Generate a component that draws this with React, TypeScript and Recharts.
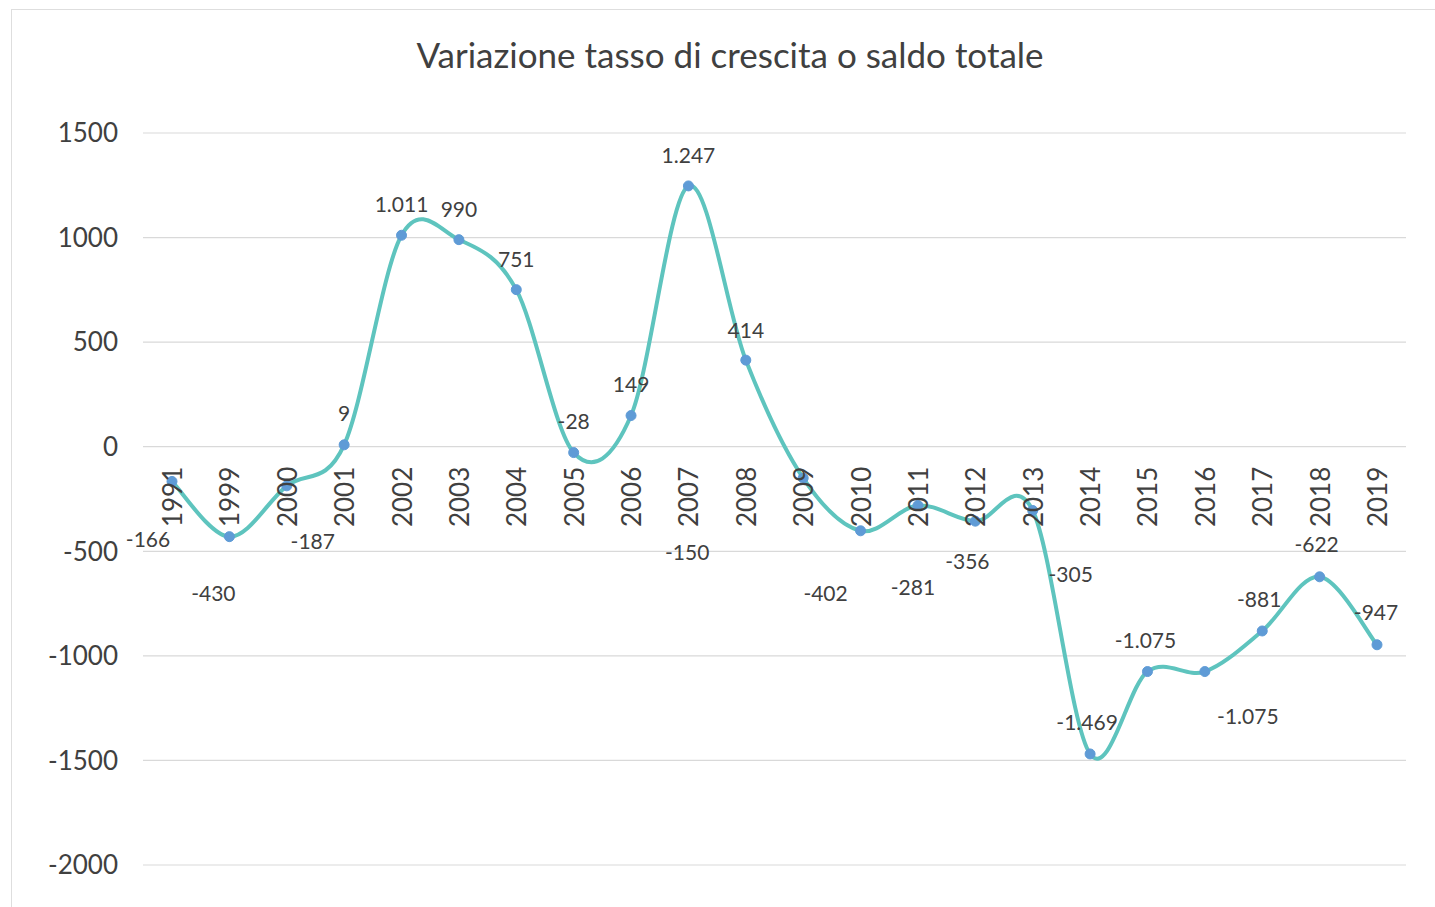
import React from "react";
import {
  LineChart,
  Line,
  XAxis,
  YAxis,
  CartesianGrid,
  LabelList,
} from "recharts";

const YEARS = [
  "1991", "1999", "2000", "2001", "2002", "2003", "2004", "2005", "2006", "2007", "2008",
  "2009", "2010", "2011", "2012", "2013", "2014", "2015", "2016", "2017", "2018", "2019",
];
const SALDO = [
  -166, -430, -187, 9, 1011, 990, 751, -28, 149, 1247, 414,
  -150, -402, -281, -356, -305, -1469, -1075, -1075, -881, -622, -947,
];
const Y_TICKS = [-2000, -1500, -1000, -500, 0, 500, 1000, 1500];

// where Excel dropped each data label, relative to its point
const LABEL_OFFSETS: [number, number][] = [
  [-24, 57], [-16, 56], [26, 55], [0, -32], [0, -32], [0, -31], [0, -31], [0, -32],
  [0, -32], [0, -31], [0, -31], [-116, 73], [-35, 62], [-5, 81], [-8, 39], [38, 63],
  [-3, -32], [-2, -32], [43, 44], [-3, -32], [-3, -33], [-1, -33],
];

const data = YEARS.map((year, i) => ({ year, saldo: SALDO[i], zero: 0 }));

const FONT = "Lato, 'Open Sans', sans-serif";
const TEXT = "#404040";

// Italian style: 1.011, -1.469
const fmt = (v: number) => {
  const s = Math.abs(v).toString().replace(/\B(?=(\d{3})+(?!\d))/g, ".");
  return v < 0 ? "-" + s : s;
};

// Excel-like smoothing (Catmull-Rom as cubic bezier)
const excelSmooth = (context: any) => {
  let pts: [number, number][] = [];
  return {
    areaStart() {},
    areaEnd() {},
    lineStart() {
      pts = [];
    },
    point(x: number, y: number) {
      pts.push([+x, +y]);
    },
    lineEnd() {
      const n = pts.length;
      if (!n) return;
      context.moveTo(pts[0][0], pts[0][1]);
      for (let i = 0; i < n - 1; i++) {
        const p0 = pts[Math.max(0, i - 1)];
        const p1 = pts[i];
        const p2 = pts[i + 1];
        const p3 = pts[Math.min(n - 1, i + 2)];
        context.bezierCurveTo(
          p1[0] + (p2[0] - p0[0]) / 6,
          p1[1] + (p2[1] - p0[1]) / 6,
          p2[0] - (p3[0] - p1[0]) / 6,
          p2[1] - (p3[1] - p1[1]) / 6,
          p2[0],
          p2[1]
        );
      }
    },
  };
};

const YearLabel = (props: any) => {
  const { x, y, value } = props;
  return (
    <text
      transform={`translate(${x},${y + 20}) rotate(-90)`}
      textAnchor="end"
      dominantBaseline="central"
      fontFamily={FONT}
      fontSize={26}
      fill={TEXT}
    >
      {value}
    </text>
  );
};

const ValueLabel = (props: any) => {
  const { x, y, value, index } = props;
  const [dx, dy] = LABEL_OFFSETS[index] || [0, -32];
  return (
    <text
      x={x + dx}
      y={y + dy}
      textAnchor="middle"
      dominantBaseline="central"
      fontFamily={FONT}
      fontSize={21}
      fill={TEXT}
    >
      {fmt(value)}
    </text>
  );
};

export default function App() {
  return (
    <div
      style={{
        position: "absolute",
        left: 0,
        top: 0,
        width: 1435,
        height: 907,
        overflow: "hidden",
        background: "#fff",
      }}
    >
      {/* chart frame, cut off on the right and bottom */}
      <div
        style={{
          position: "absolute",
          left: 11,
          top: 9,
          width: 1440,
          height: 920,
          border: "1.5px solid #dedede",
        }}
      />
      <div
        style={{
          position: "absolute",
          left: 0,
          width: 1460,
          top: 33,
          textAlign: "center",
          fontFamily: FONT,
          fontSize: 35,
          lineHeight: "42px",
          color: TEXT,
        }}
      >
        Variazione tasso di crescita o saldo totale
      </div>
      <div style={{ position: "absolute", left: 0, top: 0 }}>
        <LineChart
          width={1435}
          height={907}
          data={data}
          margin={{ top: 133, right: 29, bottom: 42, left: 13 }}
        >
          <CartesianGrid vertical={false} stroke="#d9d9d9" strokeWidth={1.2} />
          <XAxis dataKey="year" hide padding={{ left: 29, right: 29 }} />
          <YAxis
            width={130}
            domain={[-2000, 1500]}
            ticks={Y_TICKS}
            interval={0}
            axisLine={false}
            tickLine={false}
            tickSize={0}
            tickMargin={25}
            tick={{ fill: TEXT, fontSize: 26, fontFamily: FONT }}
          />
          {/* category labels sit on the zero line */}
          <Line
            dataKey="zero"
            stroke="none"
            dot={false}
            activeDot={false}
            isAnimationActive={false}
          >
            <LabelList dataKey="year" content={YearLabel} />
          </Line>
          <Line
            dataKey="saldo"
            type={excelSmooth as any}
            stroke="#5ec4be"
            strokeWidth={4}
            dot={{ r: 5, fill: "#5f9bd6", stroke: "#5f9bd6", strokeWidth: 1 }}
            activeDot={false}
            isAnimationActive={false}
          >
            <LabelList dataKey="saldo" content={ValueLabel} />
          </Line>
        </LineChart>
      </div>
    </div>
  );
}
